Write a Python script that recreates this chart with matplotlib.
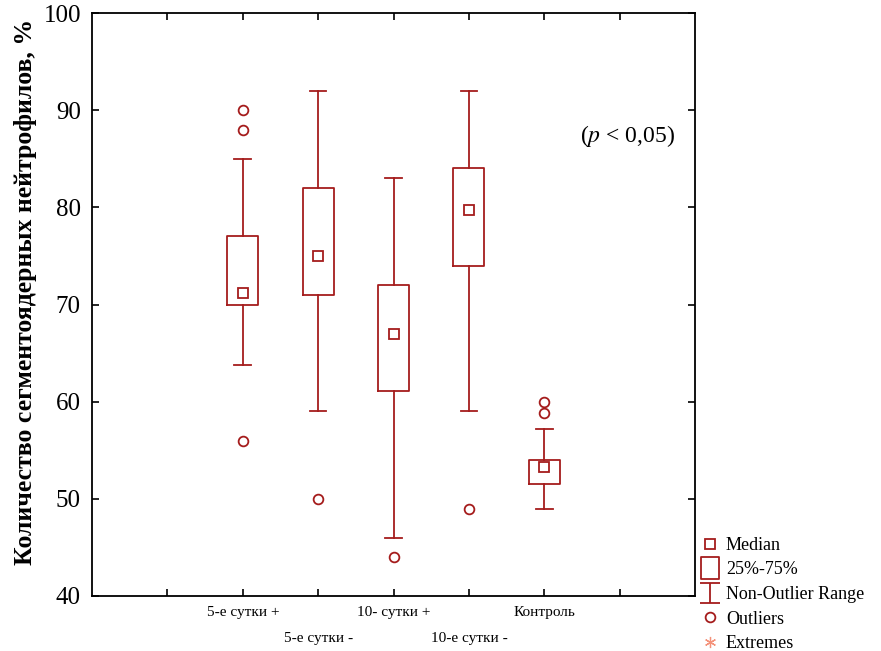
import matplotlib
matplotlib.use("Agg")
import matplotlib.pyplot as plt
from matplotlib.lines import Line2D
from matplotlib.path import Path

plt.rcParams['font.family'] = ['Liberation Serif', 'DejaVu Serif']
plt.rcParams['mathtext.fontset'] = 'stix'

# data
groups = ["5-е сутки +", "5-е сутки -", "10- сутки +", "10-е сутки -", "Контроль"]
medians = [71.2, 75.0, 67.0, 79.7, 53.3]
q1 = [70.0, 71.0, 61.1, 74.0, 51.5]
q3 = [77.0, 82.0, 72.0, 84.0, 54.0]
whis_lo = [63.8, 59.0, 46.0, 59.0, 49.0]
whis_hi = [85.0, 92.0, 83.0, 92.0, 57.2]
outliers = [[90.0, 88.0, 56.0], [50.0], [44.0], [49.0], [60.0, 58.8]]
positions = [2, 3, 4, 5, 6]

red = '#A51C1C'

fig = plt.figure(figsize=(8.81, 6.51), dpi=100)
ax = fig.add_axes([0.1044, 0.0845, 0.6846, 0.8955])

stats = []
for i in range(len(groups)):
    stats.append(dict(med=medians[i], mean=medians[i], q1=q1[i], q3=q3[i],
                      whislo=whis_lo[i], whishi=whis_hi[i], fliers=outliers[i]))

ax.bxp(stats, positions=positions, widths=0.41, showmeans=True, showcaps=True,
       boxprops=dict(color=red, linewidth=1.3),
       whiskerprops=dict(color=red, linewidth=1.3),
       capprops=dict(color=red, linewidth=1.3),
       capwidths=0.22,
       medianprops=dict(linewidth=0),
       meanprops=dict(marker='s', markersize=7, markerfacecolor='none',
                      markeredgecolor=red, markeredgewidth=1.3),
       flierprops=dict(marker='o', markersize=7, markerfacecolor='none',
                       markeredgecolor=red, markeredgewidth=1.3))

ax.set_xlim(0, 8)
ax.set_ylim(40, 100)
ax.set_yticks([40, 50, 60, 70, 80, 90, 100])
ax.set_xticks([1, 2, 3, 4, 5, 6, 7])
ax.set_xticklabels([])
ax.tick_params(axis='both', direction='in', length=5, width=1.2, top=True, right=True)
ax.tick_params(axis='y', labelsize=18, pad=8)
for sp in ax.spines.values():
    sp.set_linewidth(1.3)

# staggered category labels
for i, name in enumerate(groups):
    yoff = -0.028 if i % 2 == 0 else -0.073
    ax.text(positions[i], yoff, name, transform=ax.get_xaxis_transform(),
            ha='center', va='center', fontsize=11)

ax.set_ylabel('Количество сегментоядерных нейтрофилов, %', fontsize=18.5,
              fontweight='bold')
ax.yaxis.set_label_coords(-0.091, 0.521)

ax.text(0.888, 0.789, r'($p$ < 0,05)', transform=ax.transAxes,
        ha='center', va='center', fontsize=17)

# legend outside the axes
ibeam = Path([(-1, 1), (1, 1), (0, 1), (0, -1), (-1, -1), (1, -1)],
             [Path.MOVETO, Path.LINETO, Path.MOVETO, Path.LINETO, Path.MOVETO, Path.LINETO])
tallbox = Path([(-0.8, -1), (0.8, -1), (0.8, 1), (-0.8, 1), (-0.8, -1)],
               [Path.MOVETO, Path.LINETO, Path.LINETO, Path.LINETO, Path.CLOSEPOLY])
handles = [
    Line2D([], [], linestyle='none', marker='s', markersize=7, markerfacecolor='none',
           markeredgecolor=red, markeredgewidth=1.3),
    Line2D([], [], linestyle='none', marker=tallbox, markersize=16, markerfacecolor='none',
           markeredgecolor=red, markeredgewidth=1.3),
    Line2D([], [], linestyle='none', marker=ibeam, markersize=15, markerfacecolor='none',
           markeredgecolor=red, markeredgewidth=1.3),
    Line2D([], [], linestyle='none', marker='o', markersize=7, markerfacecolor='none',
           markeredgecolor=red, markeredgewidth=1.3),
    Line2D([], [], linestyle='none', marker=(6, 2, 0), markersize=8,
           markeredgecolor='#F4927A', markeredgewidth=0.9),
]
labels = ['Median', '25%-75%', 'Non-Outlier Range', 'Outliers', 'Extremes']
leg = fig.legend(handles, labels, loc='lower left', bbox_to_anchor=(0.787, -0.013),
                 frameon=False, fontsize=13, handlelength=1.0, handletextpad=0.4,
                 labelspacing=0.42, borderaxespad=0)

fig.savefig('out.png', dpi=100)
